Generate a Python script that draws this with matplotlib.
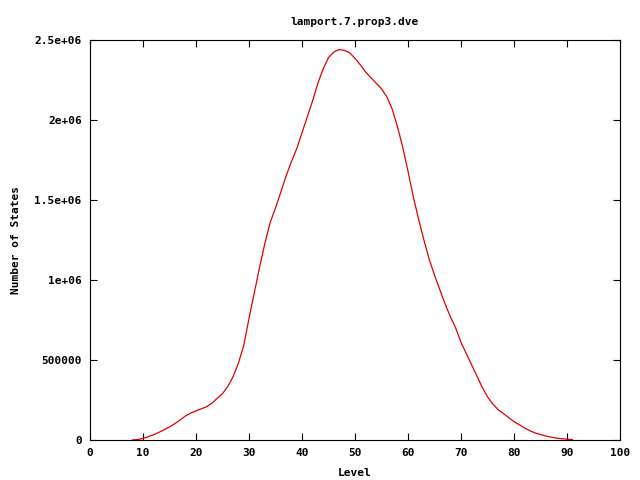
import matplotlib
matplotlib.use("Agg")
import matplotlib.pyplot as plt

# levels and number of states per level
levels = list(range(8, 92))
states = [
    0, 3000, 10000, 20000, 33000, 48000, 64000, 82000, 102000, 125000,
    150000, 168000, 182000, 195000, 208000, 230000, 260000, 290000, 335000, 396000,
    480000, 590000, 760000, 920000, 1080000, 1230000, 1360000, 1450000, 1550000, 1650000,
    1740000, 1820000, 1920000, 2020000, 2120000, 2230000, 2320000, 2390000, 2425000, 2440000,
    2435000, 2420000, 2385000, 2345000, 2300000, 2265000, 2230000, 2195000, 2145000, 2070000,
    1960000, 1830000, 1680000, 1520000, 1380000, 1250000, 1130000, 1030000, 940000, 850000,
    770000, 700000, 610000, 540000, 470000, 400000, 330000, 270000, 225000, 190000,
    165000, 140000, 115000, 95000, 75000, 58000, 44000, 34000, 25000, 18000,
    12000, 8000, 5000, 3000,
]

x_ticks = list(range(0, 101, 10))
y_ticks = [0, 500000, 1000000, 1500000, 2000000, 2500000]
y_tick_labels = ["0", "500000", "1e+06", "1.5e+06", "2e+06", "2.5e+06"]

plt.rcParams["font.family"] = "DejaVu Sans Mono"
plt.rcParams["font.weight"] = "bold"
plt.rcParams["font.size"] = 8

fig = plt.figure(figsize=(6.4, 4.8), dpi=100)
ax = fig.add_axes([90 / 640, 40 / 480, 530 / 640, 400 / 480])

ax.plot(levels, states, color="#e00000", linewidth=0.9)

ax.set_xlim(0, 100)
ax.set_ylim(0, 2500000)
ax.set_xticks(x_ticks)
ax.set_yticks(y_ticks)
ax.set_yticklabels(y_tick_labels)
ax.tick_params(direction="in", length=5, width=0.8, top=True, right=True, pad=6)
for s in ax.spines.values():
    s.set_linewidth(0.8)

ax.set_title("lamport.7.prop3.dve", fontsize=8, fontweight="bold", pad=11)
ax.set_xlabel("Level", fontsize=8, fontweight="bold", labelpad=7)
ax.set_ylabel("Number of States", fontsize=8, fontweight="bold", labelpad=10)

fig.savefig("out.png", dpi=100)
